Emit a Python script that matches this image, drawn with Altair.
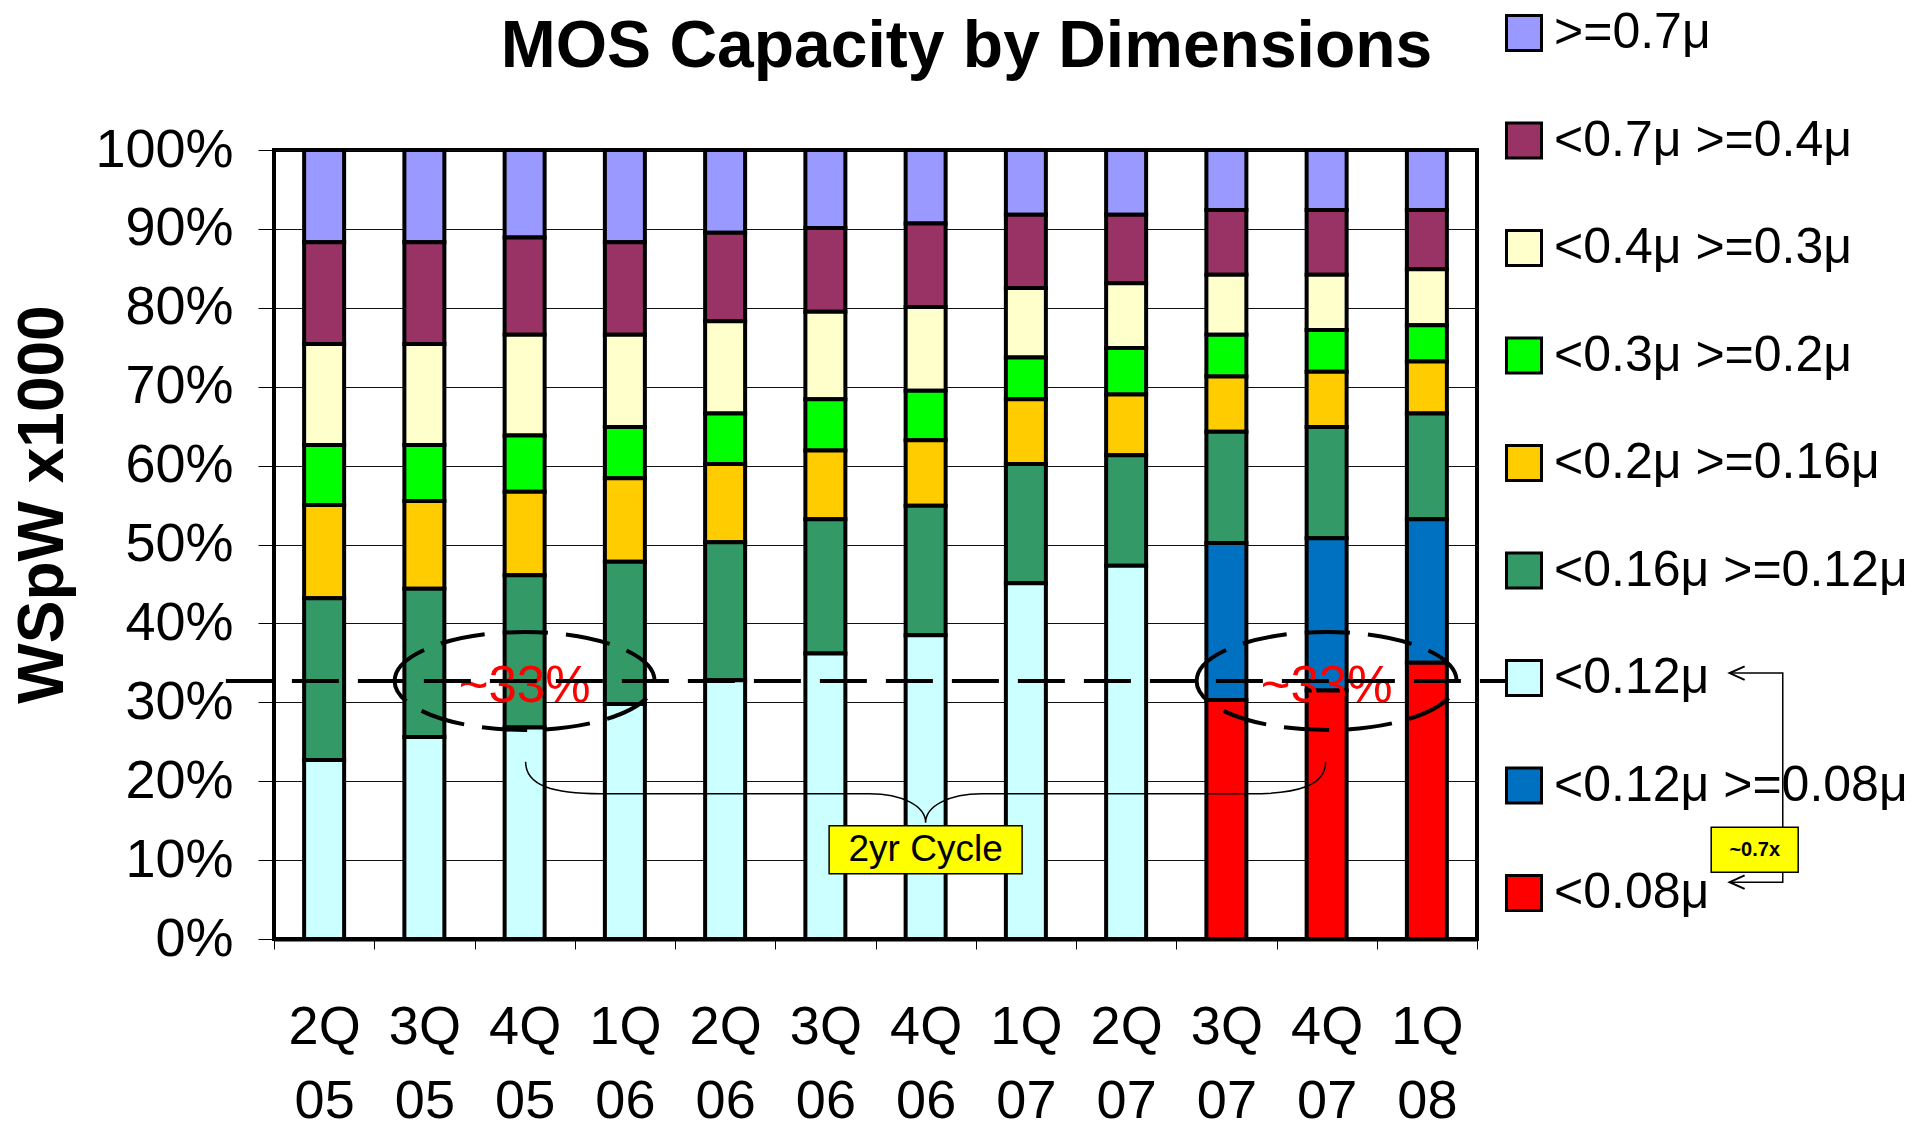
import altair as alt
import pandas as pd

FONT = "Liberation Sans"

quarters = ["2Q 05", "3Q 05", "4Q 05", "1Q 06", "2Q 06", "3Q 06",
            "4Q 06", "1Q 07", "2Q 07", "3Q 07", "4Q 07", "1Q 08"]

# legend order (top of stack first)
series_names = [">=0.7μ", "<0.7μ >=0.4μ", "<0.4μ >=0.3μ", "<0.3μ >=0.2μ",
                "<0.2μ >=0.16μ", "<0.16μ >=0.12μ", "<0.12μ",
                "<0.12μ >=0.08μ", "<0.08μ"]
series_colors = ["#9999FF", "#993366", "#FFFFCC", "#00FF00", "#FFCC00",
                 "#339966", "#CCFFFF", "#0070C0", "#FF0000"]

# segment shares (%) per quarter
ge07 = [11.7, 11.7, 11.1, 11.7, 10.5, 9.9, 9.3, 8.2, 8.2, 7.6, 7.6, 7.6]
lt07_ge04 = [12.9, 12.9, 12.3, 11.7, 11.2, 10.6, 10.6, 9.3, 8.7, 8.2, 8.2, 7.5]
lt04_ge03 = [12.8, 12.8, 12.8, 11.7, 11.7, 11.1, 10.6, 8.8, 8.2, 7.6, 7.0, 7.1]
lt03_ge02 = [7.6, 7.1, 7.1, 6.5, 6.4, 6.5, 6.3, 5.3, 5.9, 5.3, 5.3, 4.6]
lt02_ge016 = [11.8, 11.1, 10.6, 10.6, 9.9, 8.7, 8.3, 8.2, 7.7, 7.0, 7.0, 6.6]
lt016_ge012 = [20.5, 18.8, 19.3, 18.0, 17.5, 17.0, 16.4, 15.1, 14.0, 14.1, 14.1, 13.4]
lt012 = [22.7, 25.6, 26.8, 29.8, 32.8, 36.2, 38.5, 45.1, 47.3, 0, 0, 0]
lt012_ge008 = [0, 0, 0, 0, 0, 0, 0, 0, 0, 19.9, 19.3, 18.2]
lt008 = [0, 0, 0, 0, 0, 0, 0, 0, 0, 30.3, 31.5, 35.0]

series_values = [ge07, lt07_ge04, lt04_ge03, lt03_ge02, lt02_ge016,
                 lt016_ge012, lt012, lt012_ge008, lt008]

# annotation anchors (data units)
circled_quarters = ["4Q 05", "4Q 07"]
circled_level = 32.7
circled_text = "~33%"
cycle_quarter = "4Q 06"
brace_level = 18.4
cycle_box_level = 11.3
cycle_text = "2yr Cycle"
ref_line_x = [-0.48, 12.28]
ratio_path_x = [14.52, 15.05, 15.05, 14.52]
ratio_path_y = [33.7, 33.7, 7.2, 7.2]
ratio_box = [14.77, 11.3]
ratio_text = "~0.7x"

rows = []
n = len(series_names)
for si, (name, vals) in enumerate(zip(series_names, series_values)):
    for q, v in zip(quarters, vals):
        if v > 0:
            rows.append({"quarter": q, "series": name, "value": v,
                         "stack": n - 1 - si})
df = pd.DataFrame(rows)

y_axis = alt.Axis(values=list(range(0, 101, 10)), labelExpr="datum.value + '%'",
                  labelFontSize=54, labelFont=FONT, labelColor="black",
                  labelPadding=25, tickSize=16, tickColor="black", tickWidth=1,
                  domainColor="black", domainWidth=3, grid=True,
                  gridColor="#111111", gridWidth=1,
                  title="WSpW x1000", titleFont=FONT, titleFontSize=64,
                  titleFontWeight="bold", titleColor="black", titleAngle=-90,
                  titleX=-212, titleY=354, titleAlign="center",
                  titleBaseline="alphabetic")
y_scale = alt.Scale(domain=[0, 100], nice=False, zero=True)

x_axis = alt.Axis(labelAngle=0, labelExpr="split(datum.label, ' ')",
                  labelFontSize=54, labelFont=FONT, labelColor="black",
                  labelLineHeight=74, labelPadding=51, tickBand="extent",
                  tickSize=10, tickColor="black", tickWidth=1,
                  domainColor="black", domainWidth=4, grid=False)
x_scale = alt.Scale(domain=quarters, paddingInner=0, paddingOuter=0)


def xb(field="quarter"):
    return alt.X(f"{field}:N", sort=quarters, scale=x_scale, axis=x_axis, title=None)


def yq(field, **kw):
    return alt.Y(f"{field}:Q", scale=y_scale, axis=y_axis, **kw)


bars = alt.Chart(df).mark_bar(width=40, stroke="black", strokeWidth=4,
                              opacity=1).encode(
    x=xb(),
    y=yq("value", stack="zero"),
    color=alt.Color("series:N", scale=alt.Scale(domain=series_names, range=series_colors),
                    legend=alt.Legend(orient="none", legendX=1225, legendY=-142,
                                      title=None, symbolType="square",
                                      symbolSize=1225, symbolStrokeWidth=3,
                                      symbolStrokeColor="black",
                                      symbolOpacity=1, labelFontSize=50,
                                      labelFont=FONT, labelColor="black",
                                      labelOffset=5, rowPadding=57.5,
                                      padding=0, labelLimit=600)),
    order=alt.Order("stack:Q", sort="ascending"),
)

circ_df = pd.DataFrame({"quarter": circled_quarters,
                        "y": [circled_level] * len(circled_quarters),
                        "t": [circled_text] * len(circled_quarters)})

ellipse_path = ("M -1,0 C -1,-0.208 -0.552,-0.377 0,-0.377 "
                "C 0.552,-0.377 1,-0.208 1,0 "
                "C 1,0.208 0.552,0.377 0,0.377 "
                "C -0.552,0.377 -1,0.208 -1,0 Z")
ellipses = alt.Chart(circ_df).mark_point(
    shape=ellipse_path, size=67600, filled=False, stroke="black",
    strokeWidth=4, strokeDash=[45, 18], opacity=1).encode(
    x=xb(), y=yq("y"))

circ_text = alt.Chart(circ_df).mark_text(
    font=FONT, fontSize=51, color="#FF0000", baseline="middle", dy=6).encode(
    x=xb(), y=yq("y"), text="t:N")

cyc_df = pd.DataFrame({"quarter": [cycle_quarter], "yb": [brace_level],
                       "yr": [cycle_box_level], "t": [cycle_text]})
brace_path = ("M -1,-0.08 C -1,-0.02 -0.93,0 -0.8125,0 L -0.14,0 "
              "C -0.06,0 0,0.03 0,0.0725 C 0,0.03 0.06,0 0.14,0 "
              "L 0.8125,0 C 0.93,0 1,-0.02 1,-0.08")
brace = alt.Chart(cyc_df).mark_point(
    shape=brace_path, size=640000, filled=False, stroke="black",
    strokeWidth=1.5, opacity=1).encode(x=xb(), y=yq("yb"))

box_path = "M -1,-0.249 L 1,-0.249 L 1,0.249 L -1,0.249 Z"
cyc_box = alt.Chart(cyc_df).mark_point(
    shape=box_path, size=37249, filled=True, fill="#FFFF00", stroke="black",
    strokeWidth=1.5, opacity=1).encode(x=xb(), y=yq("yr"))
cyc_text = alt.Chart(cyc_df).mark_text(
    font=FONT, fontSize=37, color="black", baseline="middle").encode(
    x=xb(), y=yq("yr"), text="t:N")

band_layer = alt.layer(bars, ellipses, brace, cyc_box, cyc_text, circ_text)

xq_scale = alt.Scale(domain=[0, 12], nice=False, zero=False)


def xq(field):
    return alt.X(f"{field}:Q", scale=xq_scale, axis=None, title=None)


ref_df = pd.DataFrame({"x0": [ref_line_x[0]], "x1": [ref_line_x[1]], "y": [circled_level]})
ref_line = alt.Chart(ref_df).mark_rule(
    stroke="black", strokeWidth=4, strokeDash=[47, 19]).encode(
    x=xq("x0"), x2="x1:Q", y=yq("y"))

path_df = pd.DataFrame({"x": ratio_path_x, "y": ratio_path_y,
                        "i": list(range(len(ratio_path_x)))})
ratio_line = alt.Chart(path_df).mark_line(stroke="black", strokeWidth=1.5).encode(
    x=xq("x"), y=yq("y"), order=alt.Order("i:Q"))

head_df = pd.DataFrame({"x": [ratio_path_x[0], ratio_path_x[-1]],
                        "y": [ratio_path_y[0], ratio_path_y[-1]]})
arrow_path = "M 1,-0.45 L 0,0 L 1,0.45"
heads = alt.Chart(head_df).mark_point(
    shape=arrow_path, size=900, filled=False, stroke="black",
    strokeWidth=2, opacity=1).encode(x=xq("x"), y=yq("y"))

rbox_df = pd.DataFrame({"x": [ratio_box[0]], "y": [ratio_box[1]], "t": [ratio_text]})
rbox_path = "M -1,-0.517 L 1,-0.517 L 1,0.517 L -1,0.517 Z"
rbox = alt.Chart(rbox_df).mark_point(
    shape=rbox_path, size=7569, filled=True, fill="#FFFF00", stroke="black",
    strokeWidth=1.5, opacity=1).encode(x=xq("x"), y=yq("y"))
rtext = alt.Chart(rbox_df).mark_text(
    font=FONT, fontSize=20, fontWeight="bold", color="black",
    baseline="middle").encode(x=xq("x"), y=yq("y"), text="t:N")

quant_layer = alt.layer(ref_line, ratio_line, heads, rbox, rtext)

chart = alt.layer(band_layer, quant_layer).resolve_scale(x="independent").properties(
    width=1203, height=789,
    title=alt.TitleParams("MOS Capacity by Dimensions", font=FONT, fontSize=66,
                          fontWeight="bold", color="black", anchor="middle",
                          frame="group", dx=91, offset=-125, baseline="alphabetic"),
    autosize=alt.AutoSizeParams(type="none"),
    padding={"left": 274, "top": 150, "right": 441, "bottom": 188},
    background="white",
).configure_view(stroke="black", strokeWidth=4)

chart.save("out.html", embed_options={"renderer": "svg", "actions": False})
